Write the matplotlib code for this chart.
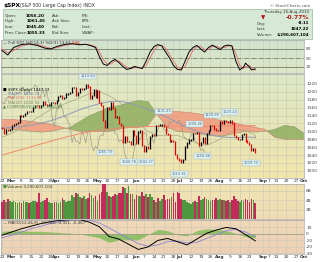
import numpy as np
import pandas as pd
import matplotlib
matplotlib.use('Agg')
import matplotlib.pyplot as plt
from matplotlib.patches import Rectangle
from matplotlib.colors import LinearSegmentedColormap

# trading days Feb 22 .. Oct 1 2010
days = pd.bdate_range('2010-02-22', '2010-10-01')
holidays = pd.to_datetime(['2010-04-02', '2010-05-31', '2010-07-05', '2010-09-06'])
days = days[~days.isin(holidays)]

# daily closes Feb 22 .. Aug 26
close = [1108.0, 1094.6, 1105.2, 1102.9, 1104.5,
         1115.7, 1118.3, 1118.8, 1122.9, 1138.7, 1138.5, 1140.4, 1145.6, 1150.2, 1150.0,
         1150.5, 1159.5, 1166.2, 1165.8, 1159.9, 1165.8, 1174.2, 1167.7, 1165.7, 1166.6,
         1173.2, 1173.3, 1169.4,
         1178.1, 1187.4, 1189.4, 1182.4, 1186.4, 1194.4, 1196.5, 1197.3, 1210.7, 1211.7,
         1192.1, 1197.5, 1207.2, 1205.9, 1208.7, 1217.3, 1212.1, 1183.7, 1191.4, 1206.8, 1186.7,
         1202.3, 1173.6, 1165.9, 1128.2, 1110.9, 1159.7, 1155.8, 1171.7, 1157.4, 1135.7,
         1136.9, 1120.8, 1115.1, 1071.6, 1087.7, 1073.7, 1074.0, 1067.9, 1103.1, 1089.4,
         1070.7, 1098.4, 1102.8, 1064.9, 1050.5, 1062.0, 1055.7, 1086.8, 1091.6, 1089.6,
         1115.2, 1114.6, 1116.0, 1117.5, 1113.2, 1095.3, 1092.0, 1073.7, 1076.8, 1074.6,
         1041.2, 1030.7,
         1027.4, 1022.6, 1028.1, 1060.3, 1070.3, 1078.0, 1078.8, 1095.3, 1095.2, 1096.5,
         1064.9, 1071.3, 1083.5, 1069.6, 1093.7, 1102.7, 1115.0, 1113.8, 1106.1, 1101.5, 1101.6,
         1125.9, 1120.5, 1127.2, 1125.8, 1121.6, 1127.8, 1121.1, 1089.5, 1083.6, 1079.3,
         1079.4, 1092.5, 1094.2, 1075.6, 1071.7, 1067.4, 1051.9, 1055.3, 1047.2]
prev_close = 1109.2

# volume, billions
volume = [3.6, 4.0, 3.7, 4.2, 3.9,
          3.5, 3.8, 3.7, 3.4, 3.6, 3.3, 3.8, 3.6, 3.7, 3.4, 3.5, 3.8, 3.9, 3.6, 5.4,
          3.5, 3.8, 4.0, 4.4, 3.7, 3.3, 3.4, 3.6,
          3.5, 3.4, 3.6, 4.4, 4.0, 3.6, 3.8, 3.9, 5.0, 4.7, 5.6, 5.2, 4.7, 4.5, 4.8,
          4.3, 4.4, 5.5, 5.0, 4.5, 4.8,
          3.9, 5.2, 5.7, 7.8, 7.4, 5.8, 4.8, 4.6, 4.9, 5.2, 5.0, 5.5, 5.4, 6.8, 6.6,
          5.6, 7.0, 5.2, 5.3, 4.2,
          5.0, 4.9, 4.9, 5.8, 4.8, 5.2, 4.7, 5.2, 4.7, 4.1, 3.7, 4.5, 3.9, 4.2, 5.0,
          4.1, 4.2, 4.2, 4.6, 5.6, 3.7, 5.7,
          5.6, 4.3, 4.0, 4.1, 3.7, 3.4, 3.2, 3.6, 3.8, 3.7, 4.9, 4.0, 4.3, 4.6, 4.2,
          4.0, 3.8, 4.0, 4.0, 4.4, 4.0,
          4.3, 4.1, 4.0, 3.8, 4.0, 3.6, 4.0, 4.8, 4.2, 3.9, 3.6, 4.0, 3.8, 4.3, 4.1,
          3.5, 4.2, 4.1, 3.29]

# weekly indicator readings (trading-day index, value)
wk_idx = list(range(0, 131, 5)) + [130]
ma50 = [1108, 1110, 1112, 1115, 1120, 1127, 1135, 1145, 1155, 1163, 1170, 1175, 1176,
        1172, 1165, 1155, 1145, 1135, 1122, 1110, 1100, 1093, 1088, 1085, 1084, 1085, 1085, 1085.3]
ma200 = [1040, 1047, 1054, 1061, 1068, 1075, 1082, 1088, 1094, 1099, 1103, 1106, 1108,
         1110, 1111, 1112, 1113, 1113, 1113, 1112, 1112, 1112, 1113, 1114, 1114, 1114, 1114.5, 1114.6]
ma20 = [1085, 1095, 1110, 1125, 1140, 1155, 1165, 1175, 1185, 1195, 1200, 1190, 1175,
        1150, 1120, 1100, 1090, 1090, 1090, 1080, 1070, 1065, 1075, 1090, 1105, 1102, 1090, 1082]

cloud_idx = list(range(0, 156, 5))
span_a = [1108, 1105, 1103, 1100, 1098, 1100, 1105, 1110, 1125, 1140, 1150, 1160, 1165, 1172,
          1178, 1175, 1140, 1110, 1100, 1098, 1095, 1090, 1088, 1090, 1095, 1100, 1098, 1100,
          1105, 1115, 1112, 1095]
span_b = [1130, 1130, 1128, 1125, 1122, 1118, 1112, 1105, 1100, 1100, 1100, 1100, 1105, 1110,
          1110, 1115, 1150, 1150, 1150, 1148, 1145, 1140, 1130, 1125, 1120, 1115, 1110, 1105,
          1085, 1080, 1080, 1080]

stoch_idx = [0, 3, 6, 10, 14, 18, 22, 25, 28, 32, 36, 40, 43, 46, 48, 50, 52, 54, 56, 58, 60,
             62, 64, 66, 68, 70, 72, 74, 76, 78, 80, 82, 84, 86, 88, 90, 92, 94, 96, 98, 100,
             102, 104, 106, 108, 110, 112, 114, 116, 118, 120, 122, 124, 125, 127, 128, 130]
stoch_k = [75, 60, 85, 95, 97, 92, 83, 80, 88, 95, 98, 94, 96, 90, 85, 55, 30, 25, 38, 45, 35,
           22, 12, 15, 22, 18, 15, 40, 70, 88, 95, 90, 70, 50, 25, 12, 10, 40, 70, 85, 92,
           80, 70, 85, 93, 85, 78, 90, 93, 90, 40, 10, 20, 33, 20, 10, 13.6]
stoch_d = [80, 68, 75, 90, 96, 95, 88, 82, 84, 92, 96, 96, 95, 93, 88, 70, 45, 30, 30, 40, 40,
           30, 20, 14, 17, 19, 17, 25, 50, 75, 90, 93, 82, 62, 40, 20, 13, 22, 50, 75, 88,
           88, 78, 78, 88, 90, 83, 85, 90, 92, 65, 25, 15, 22, 25, 18, 9.4]

macd = [-2, 3, 8, 12, 16, 19, 21, 22, 22, 18, 11, -4, -8, -16, -24, -20, -10, -7, -12, -17,
        -8, 1, 6, 10, 8, -1, -10.7]
signal = [-6, -2, 3, 8, 12, 16, 19, 21, 22, 21, 17, 9, 1, -7, -15, -19, -17, -12, -11, -14,
          -13, -7, -1, 5, 7, 3, -4.3]
macd_idx = list(range(0, 131, 5))

# date axis labels
tick_dates = ['2010-02-22', '2010-03-01', '2010-03-08', '2010-03-15', '2010-03-22', '2010-03-29',
              '2010-04-01', '2010-04-12', '2010-04-19', '2010-04-26', '2010-05-03', '2010-05-10',
              '2010-05-17', '2010-05-24', '2010-06-01', '2010-06-07', '2010-06-14', '2010-06-21',
              '2010-06-28', '2010-07-01', '2010-07-12', '2010-07-19', '2010-07-26', '2010-08-02',
              '2010-08-09', '2010-08-16', '2010-08-23', '2010-09-01', '2010-09-07', '2010-09-13',
              '2010-09-20', '2010-09-27', '2010-10-01']
tick_text = ['22', 'Mar', '8', '15', '22', '29', 'Apr', '12', '19', '26', 'May', '10', '17', '24',
             'Jun', '7', '14', '21', '28', 'Jul', '12', '19', '26', 'Aug', '9', '16', '23',
             'Sep', '7', '13', '20', '27', 'Oct']

# high / low price labels
note_date = ['2010-04-26', '2010-05-07', '2010-05-25', '2010-06-08', '2010-06-21',
             '2010-07-01', '2010-07-14', '2010-07-20', '2010-07-27', '2010-08-09', '2010-08-24']
note_price = [1219.80, 1065.79, 1040.78, 1042.17, 1131.23, 1010.91, 1099.46, 1056.88,
              1120.95, 1129.24, 1039.70]
note_up = [True, False, False, False, True, False, True, False, True, True, False]

pos = {d: i for i, d in enumerate(days)}
x = np.arange(len(close))
c = np.array(close)
pc = np.r_[prev_close, c[:-1]]
down = c < pc

W, H = 320, 262
fig = plt.figure(figsize=(W / 100, H / 100), dpi=100)


def box(top, bot, left=1, right=304):
    return [left / W, 1 - bot / H, (right - left) / W, (bot - top) / H]


def gradient(ax, c1, c2):
    cm = LinearSegmentedColormap.from_list('g', [c2, c1])
    ax.imshow(np.linspace(0, 1, 50)[:, None], aspect='auto', cmap=cm, origin='lower',
              extent=[0, 1, 0, 1], transform=ax.transAxes, zorder=0)


def style(ax, yt, ylab):
    ax.set_xlim(-0.5, 155)
    ax.yaxis.tick_right()
    ax.set_yticks(yt)
    ax.set_yticklabels(ylab, fontsize=3.2, color='#444')
    ax.tick_params(length=0, pad=1.5)
    for s in ax.spines.values():
        s.set_color('#a8a8a8')
        s.set_linewidth(0.5)
    tx = [pos[pd.Timestamp(d)] for d in tick_dates]
    for t in tx:
        ax.axvline(t, color='#c9c9b4', lw=0.4, zorder=1)
    for t in yt:
        ax.axhline(t, color='#c9c9b4', lw=0.4, zorder=1)
    ax.set_xticks(tx)
    ax.set_xticklabels([])


def date_labels(ax):
    ax.set_xticklabels(tick_text, fontsize=3.1, color='#333')
    for lab, t in zip(ax.get_xticklabels(), tick_text):
        if not t.isdigit():
            lab.set_fontweight('bold')
    ax.tick_params(axis='x', pad=1)


ax_s = fig.add_axes(box(40, 73))
ax_p = fig.add_axes(box(74, 178))
ax_v = fig.add_axes(box(184, 219))
ax_m = fig.add_axes(box(220, 254))

gradient(ax_s, '#cfe2cf', '#dfe7c6')
gradient(ax_p, '#dde8c8', '#f1e5ab')
gradient(ax_v, '#f1e3b2', '#f0dcb4')
gradient(ax_m, '#f0d8b9', '#edd1b4')

# header
fig.text(3 / W, 1 - 5 / H, '$SPX', fontsize=4.2, weight='bold', va='center')
fig.text(20 / W, 1 - 5 / H, '(S&P 500 Large Cap Index) INDX', fontsize=3.3, va='center', color='#333')
fig.text(310 / W, 1 - 6 / H, '\u00a9 StockCharts.com', fontsize=3, va='center', ha='right', color='#555')
fig.patches.append(Rectangle((3 / W, 1 - 39 / H), 309 / W, 30 / H, transform=fig.transFigure,
                             facecolor='#d6e9d6', edgecolor='#9bb89b', lw=0.5))
rows = [('Open:', '1056.20', 'Ask:', 'P/E:'), ('High:', '1061.45', 'Ask Size:', 'EPS:'),
        ('Low:', '1045.40', 'Bid:', 'Last:'), ('Prev Close:', '1055.33', 'Bid Size:', 'VWAP:')]
for i, r in enumerate(rows):
    y = 1 - (16 + i * 5.5) / H
    fig.text(5 / W, y, r[0], fontsize=2.9, va='center', color='#333')
    fig.text(45 / W, y, r[1], fontsize=3.0, va='center', ha='right', weight='bold')
    fig.text(52 / W, y, r[2], fontsize=2.9, va='center', color='#333')
    fig.text(82 / W, y, r[3], fontsize=2.9, va='center', color='#333')
fig.text(309 / W, 1 - 12 / H, 'Thursday 26-Aug-2010', fontsize=2.9, va='center', ha='right', color='#333')
fig.text(261 / W, 1 - 17.5 / H, '\u25bc', fontsize=4, va='center', color='#b01818')
fig.text(309 / W, 1 - 17.5 / H, '-0.77%', fontsize=4.3, va='center', ha='right', color='#b01818', weight='bold')
for i, (k, v) in enumerate([('Chg:', '-8.11'), ('Last:', '1047.22'), ('Volume:', '3,290,607,104')]):
    y = 1 - (23.5 + i * 5.5) / H
    fig.text(257 / W, y, k, fontsize=2.8, va='center', color='#333')
    fig.text(309 / W, y, v, fontsize=2.9, va='center', ha='right', weight='bold')

# stochastics
style(ax_s, [20, 50, 80], ['20', '50', '80'])
ax_s.set_ylim(0, 110)
for lv, ls in [(80, '-'), (50, '-.'), (20, '-')]:
    ax_s.axhline(lv, color='#607060', lw=0.5, ls=ls, zorder=2)
ax_s.plot(stoch_idx, stoch_d, color='#e06a6a', lw=0.6, zorder=3)
ax_s.plot(stoch_idx, stoch_k, color='black', lw=0.7, zorder=4)
ax_s.text(0.005, 0.9, '\u2014 Full STO %K(14,3) %D(3) 13.63,', fontsize=2.9, transform=ax_s.transAxes,
          va='center', color='#333', zorder=5)
ax_s.text(0.235, 0.9, '9.36', fontsize=2.9, transform=ax_s.transAxes, va='center', color='#d02020', zorder=5)

# price panel
style(ax_p, list(range(1000, 1221, 20)), [str(v) for v in range(1000, 1221, 20)])
ax_p.set_ylim(982, 1245)
ca, cb = np.array(span_a), np.array(span_b)
ax_p.fill_between(cloud_idx, ca, cb, where=ca >= cb, interpolate=True, color='#8fae5f', alpha=0.85, lw=0, zorder=2)
ax_p.fill_between(cloud_idx, ca, cb, where=ca < cb, interpolate=True, color='#f29a7e', alpha=0.85, lw=0, zorder=2)
ax_p.plot(cloud_idx, span_a, color='#8a9a6a', lw=0.4, zorder=2)
ax_p.plot(cloud_idx, span_b, color='#c08070', lw=0.4, zorder=2)
ax_p.plot(x - 26, c, color='#a09c84', lw=0.5, zorder=3)
ax_p.plot(wk_idx, ma200, color='#f08a70', lw=0.7, zorder=3)
ax_p.plot(wk_idx, ma50, color='#8f9cb8', lw=0.7, zorder=3)
ax_p.plot(wk_idx, ma20, color='#a9a77a', lw=0.5, zorder=3)
lo = np.minimum(c, pc)
hi = np.maximum(c, pc)
ax_p.vlines(x, lo - 1.5, hi + 1.5, colors=np.where(down, '#e00000', 'black'), lw=0.9, zorder=4)
for d, p, up in zip(note_date, note_price, note_up):
    i = pos[pd.Timestamp(d)]
    ax_p.annotate(f'{p:.2f}', (i, p), xytext=(0, 4 if up else -4), textcoords='offset points',
                  ha='center', va='bottom' if up else 'top', fontsize=2.6, color='#4a6a8a', zorder=6,
                  bbox=dict(boxstyle='square,pad=0.25', fc='#dff2f2', ec='#9ab8c8', lw=0.3))
leg = [('\u25a0 $SPX (Daily) 1047.22', 'black'), ('\u2014 MA(50) 1085.29', '#6f7ea0'),
       ('\u2014 MA(200) 1114.56', '#e07060'), ('\u2014 MA(20) 1082.94', '#80805a'),
       ('\u25b2 ICHIMOKU(9,26,52) 1060.88', '#4a7a3a')]
for i, (t, col) in enumerate(leg):
    ax_p.text(0.005, 0.845 - i * 0.04, t, fontsize=2.8, color=col, transform=ax_p.transAxes,
              va='center', zorder=6)
date_labels(ax_p)

# volume
style(ax_v, [2, 4, 6], ['2B', '4B', '6B'])
ax_v.set_ylim(0, 7.4)
ax_v.bar(x, volume, width=0.85, color=np.where(down, '#c42a5a', '#4d983f'), zorder=3)
ax_v.text(0.005, 0.92, '\u25a0', fontsize=2.9, color='#4d983f', transform=ax_v.transAxes,
          va='center', zorder=5)
ax_v.text(0.02, 0.92, 'Volume 3,290,607,104', fontsize=2.9, color='#333',
          transform=ax_v.transAxes, va='center', zorder=5)

# macd
style(ax_m, [-30, -20, -10, 0, 10], ['-30', '-20', '-10', '0', '10'])
ax_m.set_ylim(-31, 21.5)
hist = np.array(macd) - np.array(signal)
ax_m.fill_between(macd_idx, hist, 0, color='#7dbb55', alpha=0.8, lw=0, zorder=2)
ax_m.axhline(0, color='#8a8a7a', lw=0.4, zorder=2)
ax_m.plot(macd_idx, signal, color='#8c84d8', lw=0.6, zorder=3)
ax_m.plot(macd_idx, macd, color='black', lw=0.7, zorder=4)
ax_m.text(0.005, 0.92, '\u2014 MACD(12,26,9) -10.688, -4.321, -6.367', fontsize=2.9, color='#333',
          transform=ax_m.transAxes, va='center', zorder=5)
date_labels(ax_m)

fig.savefig('out.png', dpi=100)
